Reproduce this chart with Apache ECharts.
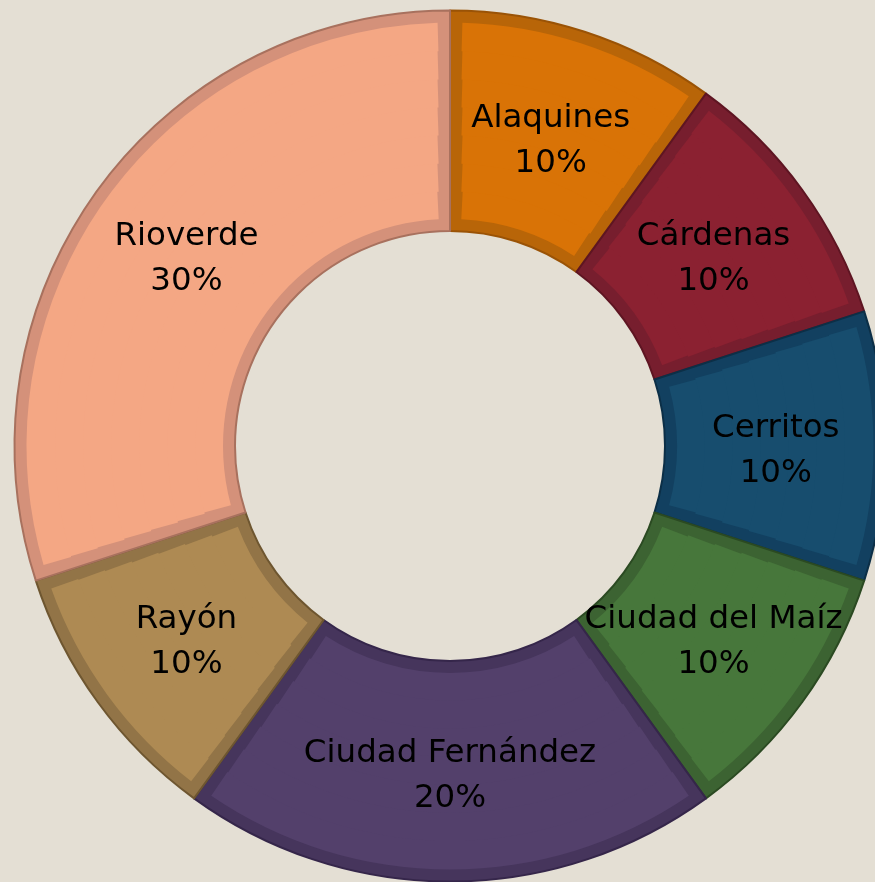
<!DOCTYPE html>
<html>
<head>
<meta charset="utf-8">
<script src="https://cdn.jsdelivr.net/npm/echarts@6/dist/echarts.min.js"></script>
<style>
html,body{margin:0;padding:0;background:#E4DFD4;}
#c{width:875px;height:882px;}
</style>
</head>
<body>
<div id="c"></div>
<script>
// ---- data ----
const categories = ['Alaquines', 'Cárdenas', 'Cerritos', 'Ciudad del Maíz', 'Ciudad Fernández', 'Rayón', 'Rioverde'];
const values = [10, 10, 10, 10, 20, 10, 30];
// ---- styles ----
const fillColors   = ['#D97306', '#8B2131', '#174D6E', '#47773B', '#53406B', '#AE8A53', '#F4A784'];
const bandColors   = ['#B86508', '#771E2E', '#124060', '#3C6332', '#46355C', '#927447', '#D4917A'];
const lineColors   = ['#9A5306', '#5E1522', '#0C2F47', '#2B4A22', '#35264A', '#6E5630', '#A8715E'];

const CX = 450, CY = 446, R0 = 215, R1 = 435.5, INSET = 12;

function makeData(colorArr, extra) {
  return categories.map((name, i) => ({
    name: name,
    value: values[i],
    itemStyle: Object.assign({ color: colorArr[i] }, extra ? extra(i) : {})
  }));
}

const series = [];
// base (border band + thin outline)
series.push({
  type: 'pie',
  center: [CX, CY],
  radius: [R0, R1],
  startAngle: 90,
  clockwise: true,
  silent: true,
  animation: false,
  label: { show: false },
  labelLine: { show: false },
  emphasis: { disabled: true },
  z: 1,
  data: makeData(bandColors, i => ({ borderColor: lineColors[i], borderWidth: 2 }))
});
// lighter inner fill, built as concentric rings with a constant-width inset
const N = 7;
const ri0 = R0 + INSET, ri1 = R1 - INSET;
for (let k = 0; k < N; k++) {
  const a = ri0 + (ri1 - ri0) * k / N;
  const b = ri0 + (ri1 - ri0) * (k + 1) / N;
  const mid = (a + b) / 2;
  const pad = (2 * INSET) / mid * 180 / Math.PI;
  series.push({
    type: 'pie',
    center: [CX, CY],
    radius: [k === 0 ? a : a - 0.6, k === N - 1 ? b : b + 0.6],
    startAngle: 90,
    clockwise: true,
    padAngle: pad,
    silent: true,
    animation: false,
    label: { show: false },
    labelLine: { show: false },
    emphasis: { disabled: true },
    z: 2,
    data: makeData(fillColors)
  });
}
// labels
series.push({
  type: 'pie',
  center: [CX, CY - 1.25],
  radius: [R0, R1 - 5],
  startAngle: 90,
  clockwise: true,
  silent: true,
  animation: false,
  emphasis: { disabled: true },
  z: 5,
  itemStyle: { color: 'rgba(0,0,0,0)' },
  labelLine: { show: false },
  label: {
    show: true,
    position: 'inside',
    color: '#000',
    fontFamily: 'DejaVu Sans, sans-serif',
    fontSize: 32.5,
    lineHeight: 45,
    offset: [0, 6],
    formatter: p => p.name + '\n' + Math.round(p.percent) + '%'
  },
  data: categories.map((name, i) => ({ name: name, value: values[i] }))
});

const chart = echarts.init(document.getElementById('c'), null, { renderer: 'canvas' });
chart.setOption({
  backgroundColor: '#E4DFD4',
  animation: false,
  series: series
});
</script>
</body>
</html>
